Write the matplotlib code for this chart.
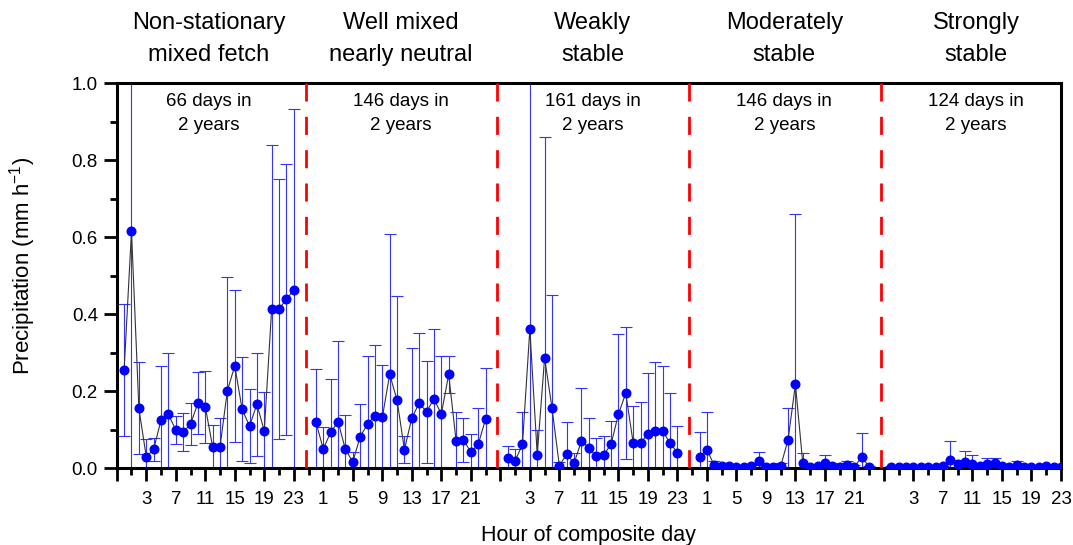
import numpy as np
import matplotlib
matplotlib.use("Agg")
import matplotlib.pyplot as plt
from matplotlib.ticker import FixedLocator, FuncFormatter

plt.rcParams['font.family'] = ['Liberation Sans', 'DejaVu Sans']
plt.rcParams['mathtext.fontset'] = 'custom'
plt.rcParams['mathtext.rm'] = 'Liberation Sans'
plt.rcParams['mathtext.it'] = 'Liberation Sans:italic'

# ---- composite-day precipitation by stability regime (mean, std) ----
regimes = ["Non-stationary\nmixed fetch", "Well mixed\nnearly neutral",
           "Weakly\nstable", "Moderately\nstable", "Strongly\nstable"]
n_days = [66, 146, 161, 146, 124]
hours = np.arange(24)

precip_nonstat = [0.255, 0.616, 0.156, 0.030, 0.049, 0.125, 0.140, 0.100,
                  0.094, 0.115, 0.169, 0.160, 0.056, 0.056, 0.202, 0.266,
                  0.153, 0.110, 0.166, 0.097, 0.414, 0.414, 0.439, 0.463]
err_nonstat = [0.171, 0.650, 0.120, 0.045, 0.029, 0.142, 0.159, 0.036,
               0.049, 0.054, 0.080, 0.094, 0.057, 0.075, 0.296, 0.197,
               0.135, 0.095, 0.133, 0.102, 0.426, 0.337, 0.352, 0.470]

precip_neutral = [0.120, 0.050, 0.094, 0.121, 0.049, 0.017, 0.082, 0.115,
                  0.137, 0.132, 0.244, 0.177, 0.048, 0.131, 0.169, 0.147,
                  0.180, 0.141, 0.244, 0.071, 0.074, 0.042, 0.062, 0.128]
err_neutral = [0.138, 0.058, 0.138, 0.210, 0.089, 0.025, 0.084, 0.178,
               0.182, 0.136, 0.364, 0.270, 0.035, 0.181, 0.182, 0.133,
               0.182, 0.152, 0.049, 0.074, 0.057, 0.046, 0.094, 0.133]

precip_weak = [0.028, 0.019, 0.062, 0.362, 0.035, 0.287, 0.157, 0.007,
               0.037, 0.013, 0.072, 0.052, 0.032, 0.035, 0.062, 0.140,
               0.195, 0.067, 0.067, 0.088, 0.098, 0.098, 0.065, 0.041]
err_weak = [0.031, 0.031, 0.084, 0.700, 0.065, 0.573, 0.293, 0.010,
            0.083, 0.026, 0.136, 0.079, 0.046, 0.050, 0.061, 0.210,
            0.171, 0.095, 0.106, 0.160, 0.177, 0.168, 0.130, 0.069]

precip_moderate = [0.030, 0.048, 0.008, 0.006, 0.005, 0.004, 0.003, 0.005,
                   0.020, 0.004, 0.003, 0.005, 0.074, 0.218, 0.013, 0.004,
                   0.005, 0.013, 0.007, 0.004, 0.008, 0.004, 0.030, 0.003]
err_moderate = [0.064, 0.098, 0.010, 0.006, 0.003, 0.003, 0.002, 0.004,
                0.022, 0.003, 0.002, 0.008, 0.082, 0.443, 0.026, 0.004,
                0.004, 0.021, 0.008, 0.010, 0.010, 0.004, 0.062, 0.002]

precip_strong = [0.003, 0.004, 0.003, 0.004, 0.003, 0.004, 0.003, 0.005,
                 0.022, 0.010, 0.016, 0.012, 0.006, 0.012, 0.014, 0.006,
                 0.004, 0.008, 0.003, 0.004, 0.003, 0.005, 0.003, 0.003]
err_strong = [0.002, 0.002, 0.002, 0.002, 0.002, 0.002, 0.002, 0.002,
              0.050, 0.012, 0.030, 0.022, 0.006, 0.014, 0.012, 0.006,
              0.004, 0.012, 0.002, 0.002, 0.002, 0.002, 0.002, 0.002]

means = [precip_nonstat, precip_neutral, precip_weak, precip_moderate, precip_strong]
errors = [err_nonstat, err_neutral, err_weak, err_moderate, err_strong]

# each regime block takes 26 units on the shared x axis
STEP = 26

fig = plt.figure(figsize=(10.73, 5.45), dpi=100)
ax = fig.add_axes([0.1088, 0.1407, 0.8800, 0.7065])

for k in range(len(regimes)):
    x = hours + STEP * k
    ax.errorbar(x, means[k], yerr=errors[k], fmt='none', ecolor='#3333ff',
                elinewidth=0.8, capsize=4, capthick=0.8, zorder=2)
    ax.plot(x, means[k], color='#333333', lw=0.8, zorder=3)
    ax.plot(x, means[k], 'o', color='#0000ff', ms=6.2, mec='#0000ff', zorder=4)

    center = STEP * k + 11.5
    ax.text(center, 1.115, regimes[k], transform=ax.get_xaxis_transform(),
            ha='center', va='center', fontsize=17, linespacing=1.55)
    ax.text(center, 0.922, f"{n_days[k]} days in\n2 years",
            transform=ax.get_xaxis_transform(),
            ha='center', va='center', fontsize=13.5, linespacing=1.5)

# regime separators
for k in range(1, len(regimes)):
    xs = STEP * k - 1.4
    ax.plot([xs, xs], [1, 0], transform=ax.get_xaxis_transform(),
            color='red', lw=2, dashes=(6.5, 5.5), zorder=5, clip_on=False)

ax.set_xlim(-1, 127)
ax.set_ylim(0, 1.0)

ax.xaxis.set_major_locator(FixedLocator(np.arange(-1, 128, 4)))
ax.xaxis.set_minor_locator(FixedLocator(np.arange(1, 128, 4)))


def hour_label(u, pos):
    h = int(round(u)) % STEP
    return str(h) if h <= 23 else ''


ax.xaxis.set_major_formatter(FuncFormatter(hour_label))
ax.yaxis.set_major_locator(FixedLocator(np.arange(0, 1.01, 0.2)))
ax.yaxis.set_minor_locator(FixedLocator(np.arange(0.1, 1.0, 0.2)))
ax.yaxis.set_major_formatter(FuncFormatter(lambda v, p: f"{v:.1f}"))

for side in ['left', 'right', 'top', 'bottom']:
    ax.spines[side].set_linewidth(2.2)

ax.tick_params(which='major', direction='out', length=9.5, width=2,
               labelsize=13.5, pad=4)
ax.tick_params(axis='x', which='major', pad=7)
ax.tick_params(which='minor', direction='out', length=4.8, width=2)

ax.set_xlabel("Hour of composite day", fontsize=15.5, labelpad=12)
fig.text(23 / 1073, 1 - 266 / 545, "Precipitation (mm h$^{-1}$)",
         rotation=90, ha='center', va='center', fontsize=16)

fig.savefig("out.png", dpi=100)
